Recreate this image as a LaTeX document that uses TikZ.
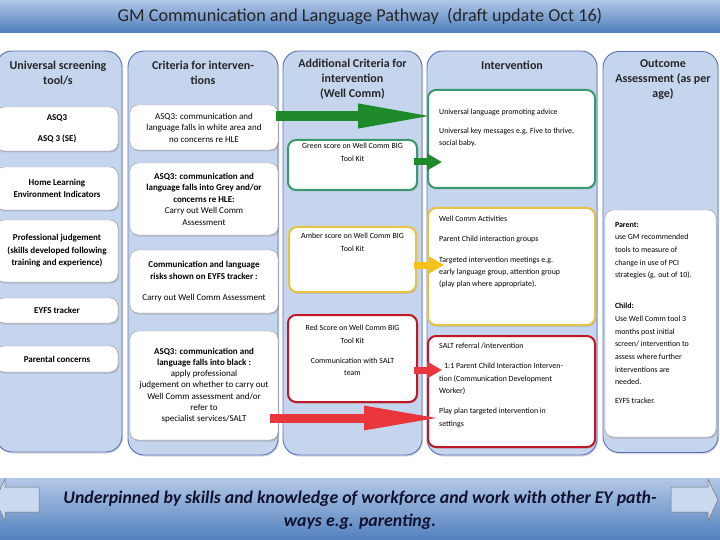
\documentclass[tikz,border=0pt]{standalone}
\usepackage{fontspec}
\setmainfont{Carlito}
\usetikzlibrary{positioning,arrows.meta,shadows,calc}
\definecolor{panelblue}{HTML}{C6D5EE}
\definecolor{paneledge}{HTML}{5B6FB8}
\definecolor{bartop}{HTML}{B3C8E7}
\definecolor{barbot}{HTML}{4F7EBD}
\definecolor{boxgreen}{HTML}{3A9A6E}
\definecolor{arrgreen}{HTML}{1F8A2A}
\definecolor{boxyellow}{HTML}{E6C441}
\definecolor{arryellow}{HTML}{F4C21A}
\definecolor{boxred}{HTML}{BF1824}
\definecolor{arrred}{HTML}{E8363C}
\definecolor{textnavy}{HTML}{10122E}

\begin{document}
\begin{tikzpicture}[
    x=1pt, y=-1pt,
    bar/.style={top color=bartop, bottom color=barbot, minimum width=724pt, inner sep=0pt, align=center},
    panel/.style={draw=paneledge, line width=0.9pt, fill=panelblue, rounded corners=16pt, inner sep=0pt,
        drop shadow={shadow xshift=1pt, shadow yshift=-1.5pt, opacity=0.3}},
    hdr/.style={font=\fontsize{12}{15}\selectfont\bfseries, align=center, text=black!85},
    box/.style={draw=black!40, line width=0.4pt, fill=white, rounded corners=8pt, inner sep=2pt, align=center,
        font=\fontsize{9}{11.5}\selectfont, drop shadow={shadow xshift=1.2pt, shadow yshift=-1.5pt, opacity=0.35}},
    sbox/.style={box, font=\fontsize{9}{12.5}\selectfont\bfseries},
    gbox/.style={box, draw=boxgreen, line width=2pt},
    ybox/.style={box, draw=boxyellow, line width=2pt},
    rbox/.style={box, draw=boxred, line width=2pt},
    note/.style={align=left, inner sep=0pt, font=\fontsize{7.9}{12.5}\selectfont},
    fat/.style={line width=10pt, -{Triangle[length=78pt, width=22pt]}},
    stub/.style={line width=7pt, -{Triangle[length=15pt, width=16pt]}},
    notch/.style={draw=black!55, line width=0.5pt, fill=bartop!70}
]
\useasboundingbox (0,0) rectangle (720,540);

% banners
\node[bar, minimum height=33pt, font=\fontsize{18.2}{20}\selectfont, text=black!85] (title) at (360,16)
    {GM Communication and Language Pathway\ \ (draft update Oct 16)};
\node[bar, minimum height=64pt, font=\fontsize{17.8}{23}\selectfont\bfseries\itshape, text=textnavy] (foot) at (360,510)
    {Underpinned by skills and knowledge of workforce and work with other EY path-\\ways e.g. parenting.};
\draw[notch] (39,487) -- (5,487) -- (5,479) -- (-5,500) -- (5,521) -- (5,512) -- (39,512) -- cycle;
\draw[notch] (671,487) -- (708,487) -- (708,479) -- (718,500) -- (708,521) -- (708,512) -- (671,512) -- cycle;

% columns
\node[panel, minimum width=126pt, minimum height=401pt] (col1) at (59,251.5) {};
\node[panel, minimum width=150pt, minimum height=404pt] (col2) at (203,253) {};
\node[panel, minimum width=139pt, minimum height=404pt] (col3) at (352.5,253) {};
\node[panel, minimum width=170pt, minimum height=404pt] (col4) at (512,253) {};
\node[panel, minimum width=115pt, minimum height=401pt] (col5) at (660.5,252) {};

\node[hdr] (h1) at (58,73) {Universal screening\\tool/s};
\node[hdr] (h2) at (203,73) {Criteria for interven-\\tions};
\node[hdr] (h3) at (352.5,79.5) {Additional Criteria for\\intervention\\(Well Comm)};
\node[hdr] (h4) at (512,65.5) {Intervention};
\node[hdr] (h5) at (663,79.5) {Outcome\\Assessment (as per\\age)};

% universal screening
\node[sbox, minimum width=122pt, minimum height=44pt] (b1) at (57,129) {ASQ3\\[8.5pt]ASQ 3 (SE)};
\node[sbox, minimum width=122pt, minimum height=43pt] (b2) at (57,188.5) {Home Learning\\Environment Indicators};
\node[sbox, minimum width=122pt, minimum height=62pt] (b3) at (57,251) {Professional judgement\\(skills developed following\\training and experience)};
\node[sbox, minimum width=122pt, minimum height=25pt] (b4) at (57,310.5) {EYFS tracker};
\node[sbox, minimum width=122pt, minimum height=26pt] (b5) at (57,359) {Parental concerns};

% criteria
\node[box, minimum width=148pt, minimum height=45pt] (c1) at (204,127.5) {ASQ3: communication and\\language falls in white area and\\no concerns re HLE};
\node[box, minimum width=148pt, minimum height=72pt] (c2) at (204,199) {\textbf{ASQ3: communication and}\\\textbf{language falls into Grey and/or}\\\textbf{concerns re HLE:}\\Carry out Well Comm\\Assessment};
\node[box, minimum width=148pt, minimum height=63pt] (c3) at (204,281.5) {\textbf{Communication and language}\\\textbf{risks shown on EYFS tracker :}\\[9.5pt]Carry out Well Comm Assessment};
\node[box, font=\fontsize{9}{11.2}\selectfont, minimum width=148pt, minimum height=109pt] (c4) at (204,385.5) {\textbf{ASQ3: communication and}\\\textbf{language falls into black :}\\apply professional\\judgement on whether to carry out\\Well Comm assessment and/or\\refer to\\specialist services/SALT};

% additional criteria
\node[gbox, minimum width=129pt, minimum height=50pt] (d1) at (352.5,165) {};
\node[ybox, minimum width=127pt, minimum height=65pt] (d2) at (352.5,259.5) {};
\node[rbox, minimum width=129pt, minimum height=87pt] (d3) at (352.5,358.5) {};
\node[note, align=center, below=4pt of d1.north] (d1t) {Green score on Well Comm BIG\\Tool Kit};
\node[note, align=center, below=7pt of d2.north] (d2t) {Amber score on Well Comm BIG\\Tool Kit};
\node[note, align=center, below=11pt of d3.north] (d3t) {Red Score on Well Comm BIG\\Tool Kit\\[7.5pt]Communication with SALT\\team};

% intervention
\node[gbox, minimum width=167pt, minimum height=98pt] (e1) at (511.5,139) {};
\node[ybox, minimum width=167pt, minimum height=117pt] (e2) at (511.5,266.5) {};
\node[rbox, minimum width=167pt, minimum height=111pt] (e3) at (511.5,391.5) {};

% outcome
\node[box, minimum width=111pt, minimum height=227pt] (f1) at (660.5,323.5) {};

% arrows
\coordinate (g0) at ($(c1.east)+(-2,-11.5)$);
\coordinate (r0) at ($(c4.east)+(-8,32.5)$);
\draw[fat, arrgreen] (g0) -- ($(g0 -| e1.west)+(9,0)$);
\draw[stub, arrgreen] ($(d1.east)+(-4,-3)$) -- ($(d1.east -| e1.west)+(15,-3)$);
\draw[stub, arryellow] ($(d2.east)+(-3,5.5)$) -- ($(d2.east -| e2.west)+(17,5.5)$);
\draw[stub, arrred] ($(d3.east)+(-4,11.5)$) -- ($(d3.east -| e3.west)+(15,11.5)$);
\draw[fat, arrred, line width=9pt] (r0) -- ($(r0 -| e3.west)+(15,0)$);

\node[note, font=\fontsize{7.9}{11.5}\selectfont, anchor=north west] (e1t) at ($(e1.north west)+(12,20)$)
    {Universal language promoting advice\\[7.5pt]Universal key messages e.g. Five to thrive,\\social baby.};
\node[note, font=\fontsize{7.9}{12}\selectfont, anchor=north west] (e2t) at ($(e2.north west)+(12,9)$)
    {Well Comm Activities\\[8pt]Parent Child interaction groups\\[8.5pt]Targeted intervention meetings e.g.\\early language group, attention group\\(play plan where appropriate).};
\node[note, anchor=north west] (e3t) at ($(e3.north west)+(12,8)$)
    {SALT referral /intervention\\[7.5pt]\hspace{5pt}1:1 Parent Child Interaction Interven-\\tion (Communication Development\\Worker)\\[7.5pt]Play plan targeted intervention in\\settings};
\node[note, font=\fontsize{7.9}{12.7}\selectfont, anchor=north west] (f1t) at ($(f1.north west)+(10,12)$)
    {\textbf{Parent:}\\use GM recommended\\tools to measure of\\change in use of PCI\\strategies (g. out of 10).\\[18pt]\textbf{Child:}\\Use Well Comm tool 3\\months post initial\\screen/ intervention to\\assess where further\\interventions are\\needed.\\[6pt]EYFS tracker.};
\end{tikzpicture}
\end{document}
